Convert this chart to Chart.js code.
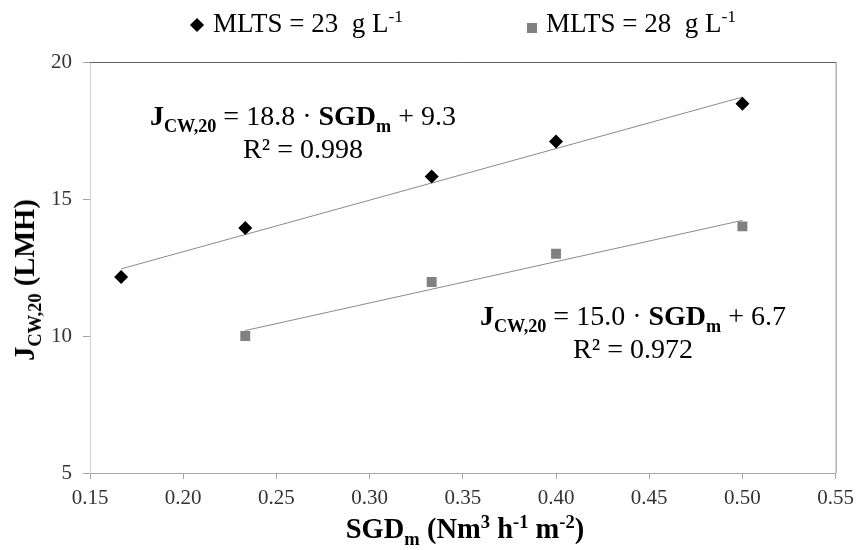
<!DOCTYPE html>
<html>
<head>
<meta charset="utf-8">
<script src="https://cdn.jsdelivr.net/npm/chart.js@4.4.1/dist/chart.umd.min.js"></script>
<style>
  html, body { margin: 0; padding: 0; background: #fff; }
  #wrap { position: relative; width: 861px; height: 550px; font-family: "Liberation Serif", "Times New Roman", serif; color: #000; }
  #chart { position: absolute; left: 0; top: 0; }
  .txt { position: absolute; white-space: pre; line-height: 33px; }
  sub, sup { font-size: 0.65em; line-height: 0; }
  b sub { font-weight: bold; }
  .legend { font-size: 27px; top: 7px; }
  .mk { position: absolute; }
  .eq { font-size: 28px; text-align: center; transform: translateX(-50%); }
  .axis-title { font-size: 28.5px; font-weight: bold; line-height: 30px; }
</style>
</head>
<body>
<div id="wrap">
  <canvas id="chart" width="861" height="550"></canvas>

  <!-- legend -->
  <div class="mk" style="left:192px;top:20px;width:10px;height:10px;background:#000;transform:rotate(45deg);"></div>
  <div class="txt legend" style="left:213px;">MLTS = 23  g L<sup>-1</sup></div>
  <div class="mk" style="left:527px;top:23px;width:10px;height:10px;background:#808080;"></div>
  <div class="txt legend" style="left:546px;">MLTS = 28  g L<sup>-1</sup></div>

  <!-- fitted equations -->
  <div class="txt eq" style="left:303px;top:99px;"><b>J<sub>CW,20</sub></b> = 18.8 · <b>SGD<sub>m</sub></b> + 9.3
R² = 0.998</div>
  <div class="txt eq" style="left:633px;top:299px;"><b>J<sub>CW,20</sub></b> = 15.0 · <b>SGD<sub>m</sub></b> + 6.7
R² = 0.972</div>

  <!-- axis titles -->
  <div class="txt axis-title" style="left:465px;top:514px;transform:translateX(-50%);">SGD<sub>m</sub> (Nm<sup>3</sup> h<sup>-1</sup> m<sup>-2</sup>)</div>
  <div class="txt axis-title" style="left:25px;top:280px;transform:translate(-50%,-50%) rotate(-90deg);">J<sub>CW,20</sub> (LMH)</div>
</div>

<script>
// Permeate flux vs. specific gas demand, two MLTS levels, with linear fits.

// MLTS = 23 g/L
const sgd23 = [0.1667, 0.2333, 0.3333, 0.4, 0.5];
const flux23 = [12.15, 13.94, 15.82, 17.1, 18.48];
// MLTS = 28 g/L
const sgd28 = [0.2333, 0.3333, 0.4, 0.5];
const flux28 = [10.0, 11.97, 13.0, 14.0];

// trend line end points
const fit23X = [0.1667, 0.5];
const fit23Y = [12.45, 18.72];
const fit28X = [0.2333, 0.5];
const fit28Y = [10.2, 14.22];

const xTicks = [0.15, 0.2, 0.25, 0.3, 0.35, 0.4, 0.45, 0.5, 0.55];
const yTicks = [5, 10, 15, 20];

const pts = (xs, ys) => xs.map((x, i) => ({ x, y: ys[i] }));

const tickFont = { family: "'Liberation Serif', 'Times New Roman', serif", size: 21 };

// top and right frame of the plot area
const frame = {
  id: "frame",
  afterDraw(c) {
    const { ctx, chartArea: a } = c;
    ctx.save();
    ctx.lineWidth = 1;
    ctx.strokeStyle = "#5f5f5f";
    ctx.beginPath();
    ctx.moveTo(a.left, a.top + 0.5);
    ctx.lineTo(a.right + 0.5, a.top + 0.5);
    ctx.stroke();
    ctx.strokeStyle = "#8c8c8c";
    ctx.beginPath();
    ctx.moveTo(a.right + 0.5, a.top);
    ctx.lineTo(a.right + 0.5, a.bottom);
    ctx.stroke();
    ctx.restore();
  },
};

new Chart(document.getElementById("chart"), {
  type: "scatter",
  data: {
    datasets: [
      { label: "MLTS = 23 g L-1", data: pts(sgd23, flux23), pointStyle: "rectRot", pointRadius: 7, backgroundColor: "#000", borderColor: "#000", borderWidth: 0 },
      { label: "MLTS = 28 g L-1", data: pts(sgd28, flux28), pointStyle: "rect", pointRadius: 7, backgroundColor: "#808080", borderColor: "#808080", borderWidth: 0 },
      { label: "fit 23", data: pts(fit23X, fit23Y), showLine: true, pointRadius: 0, borderColor: "#8a8a8a", borderWidth: 1 },
      { label: "fit 28", data: pts(fit28X, fit28Y), showLine: true, pointRadius: 0, borderColor: "#8a8a8a", borderWidth: 1 },
    ],
  },
  options: {
    responsive: false,
    animation: false,
    layout: { padding: { left: 0, top: 62, right: 20, bottom: 0 } },
    plugins: { legend: { display: false }, tooltip: { enabled: false } },
    scales: {
      x: {
        type: "linear",
        min: xTicks[0],
        max: xTicks[xTicks.length - 1],
        afterBuildTicks: (s) => { s.ticks = xTicks.map((v) => ({ value: v })); },
        afterFit: (s) => { s.height = 77; },
        ticks: { font: tickFont, color: "#333", padding: 7, maxRotation: 0, callback: (v) => v.toFixed(2) },
        grid: { drawOnChartArea: false, drawTicks: true, tickLength: 6, tickColor: "#a6a6a6" },
        border: { color: "#a6a6a6", width: 1 },
      },
      y: {
        min: yTicks[0],
        max: yTicks[yTicks.length - 1],
        afterBuildTicks: (s) => { s.ticks = yTicks.map((v) => ({ value: v })); },
        afterFit: (s) => { s.width = 90; },
        ticks: { font: tickFont, color: "#333", padding: 11 },
        grid: { drawOnChartArea: false, drawTicks: true, tickLength: 7, tickColor: "#a6a6a6" },
        border: { color: "#d0d0d0", width: 1 },
      },
    },
  },
  plugins: [frame],
});
</script>
</body>
</html>
